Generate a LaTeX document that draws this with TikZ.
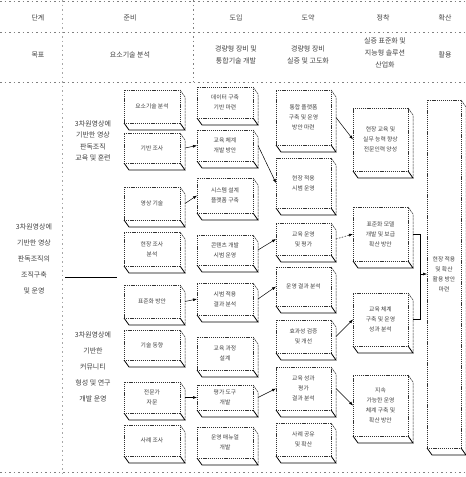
\documentclass[tikz,border=0pt]{standalone}
\usepackage{fontspec}
\newfontfamily\cjk{Noto Sans CJK KR}
\usetikzlibrary{arrows.meta,calc}
\tikzset{
 face/.style={draw=black!80, dash pattern=on 1.2pt off 0.9pt, line width=0.4pt, inner sep=0pt, outer sep=0pt, align=center, font=\cjk\fontsize{5.8}{10}\selectfont, text=black!75},
 rim/.style={draw=black!80, line width=0.5pt, dash pattern=on 2.5pt off 0.7pt},
 base/.style={draw=black, line width=0.8pt},
 lbl/.style={align=center, font=\cjk\fontsize{7}{12}\selectfont, text=black!75},
 big/.style={align=center, font=\cjk\fontsize{7}{16}\selectfont, text=black!75},
 rule/.style={draw=black!50, dash pattern=on 1.5pt off 3pt, line width=0.4pt},
 flow/.style={draw=black, line width=0.5pt, -{Latex[length=4pt,width=3pt]}},
 dflow/.style={flow, dash pattern=on 1.5pt off 1.5pt},
}
\newcommand\myslab[6]{%
 \node[face, minimum width={#4-#2-5}, minimum height={#5-#3-7}] (#1) at ({(#2+#4-5)/2},{(#3+#5-7)/2}) {#6};
 \draw[rim] (#1.north east) -- ++(5,7) -- ++(0,{#5-#3-7});
 \draw[base] (#1.south west) -- ++(5,7) -- ++({#4-#2-5},0) -- (#1.south east);
}
\begin{document}
\begin{tikzpicture}[x=1pt,y=-1pt]
\useasboundingbox (0,0) rectangle (466,477);
% rules
\draw[rule] (0,1) -- (466,1);
\draw[rule] (0,32) -- (466,32);
\draw[rule] (0,82) -- (466,82);
\draw[rule] (0,472) -- (466,472);
\draw[rule, draw=black!35] (62,0) -- (62,477);
\draw[rule] (193,0) -- (193,82);
% header
\node[lbl] (h0) at (38,18) {단계};
\node[lbl] (h1) at (130,18) {준비};
\node[lbl] (h2) at (236,18) {도입};
\node[lbl] (h3) at (308,18) {도약};
\node[lbl] (h4) at (383,18) {정착};
\node[lbl] (h5) at (445,18) {확산};
\node[lbl] (g0) at (38,55) {목표};
\node[lbl] (g1) at (130,55) {요소기술 분석};
\node[lbl] (g2) at (236,55) {경량형 장비 및\\통합기술 개발};
\node[lbl] (g3) at (308,55) {경량형 장비\\실증 및 고도화};
\node[lbl] (g4) at (385,53) {실증 표준화 및\\지능형 솔루션\\산업화};
\node[lbl] (g5) at (445,55) {활용};
% left goals
\node[lbl, font=\cjk\fontsize{7}{11.5}\selectfont] (l1) at (93,141) {3차원영상에\\기반한 영상\\판독조직\\교육 및 훈련};
\node[big] (l2) at (34,259) {3차원영상에\\기반한 영상\\판독조직의\\조직구축\\및 운영};
\node[big] (l3) at (93,367) {3차원영상에\\기반한\\커뮤니티\\형성 및 연구\\개발 운영};
\coordinate (ls) at (65,277);
\coordinate (le) at (117,277);
\draw[line width=0.6pt] (ls) -- (le);
% column A
\myslab{a1}{124}{90}{185}{130}{요소기술 분석}
\myslab{a2}{124}{133}{185}{170}{기반 조사}
\myslab{a3}{124}{187}{185}{227}{영상 기술}
\myslab{a4}{124}{232}{185}{273}{현장 조사\\분석}
\myslab{a5}{124}{285}{185}{325}{표준화 방안}
\myslab{a6}{124}{330}{185}{367}{기술 동향}
\myslab{a7}{124}{382}{185}{420}{전문가\\자문}
\myslab{a8}{124}{425}{185}{463}{사례 조사}
% column B
\myslab{b1}{197}{87}{258}{125}{데이터 구축\\기반 마련}
\myslab{b2}{197}{130}{258}{168}{교육 체계\\개발 방안}
\myslab{b3}{197}{178}{258}{220}{시스템 설계\\플랫폼 구축}
\myslab{b4}{197}{235}{258}{272}{콘텐츠 개발\\시범 운영}
\myslab{b5}{197}{283}{258}{322}{시범 적용\\결과 분석}
\myslab{b6}{197}{337}{258}{377}{교육 과정\\설계}
\myslab{b7}{197}{385}{258}{417}{평가 도구\\개발}
\myslab{b8}{197}{427}{258}{465}{운영 매뉴얼\\개발}
% column C
\myslab{c1}{276}{90}{336}{152}{통합 플랫폼\\구축 및 운영\\방안 마련}
\myslab{c2}{276}{158}{336}{215}{현장 적용\\시범 운영}
\myslab{c3}{276}{223}{336}{262}{교육 운영\\및 평가}
\myslab{c4}{276}{267}{336}{313}{운영 결과 분석}
\myslab{c5}{276}{320}{336}{360}{효과성 검증\\및 개선}
\myslab{c6}{276}{367}{336}{417}{교육 성과\\평가\\결과 분석}
\myslab{c7}{276}{423}{336}{463}{사례 공유\\및 확산}
% column D
\myslab{d1}{353}{108}{413}{178}{현장 교육 및\\실무 능력 향상\\전문인력 양성}
\myslab{d2}{353}{207}{413}{268}{표준화 모델\\개발 및 보급\\확산 방안}
\myslab{d3}{353}{293}{413}{353}{교육 체계\\구축 및 운영\\성과 분석}
\myslab{d4}{353}{375}{413}{443}{지속\\가능한 운영\\체계 구축 및\\확산 방안}
% column E
\myslab{e}{427}{100}{466}{455}{현장 적용\\및 확산\\활용 방안\\마련}
% connectors A->B
\draw[flow] ([xshift=5pt]a2.east) -- (b2.west);
\draw[flow] ([xshift=5pt]a3.east) -- (b3.west);
\draw[flow] ([xshift=5pt]a5.east) -- (b5.west);
\draw[flow] ([xshift=5pt]a7.east) -- (b7.west);
% B->C
\draw[flow] ([xshift=5pt]b2.east) -- (c2.west);
\draw[flow] ([xshift=5pt]b4.east) -- (c3.west);
\draw[flow] ([xshift=5pt]b5.east) -- (c4.west);
\draw[flow] ([xshift=5pt]b7.east) -- (c6.west);
% C->D
\draw[flow] ([xshift=5pt]c1.east) -- (d1.west);
\draw[dflow] ([xshift=5pt]c3.east) -- (d2.west);
\draw[flow] ([xshift=5pt]c5.east) -- (d3.west);
\draw[flow] ([xshift=5pt]c6.east) -- (d4.west);
% D->E
\coordinate (jn) at (420,274);
\draw[line width=0.5pt] ([xshift=5pt]d2.east) -| (jn);
\draw[line width=0.5pt] ([xshift=5pt]d3.east) -| (jn);
\draw[flow] (jn) -- (jn -| e.west);
\end{tikzpicture}
\end{document}
